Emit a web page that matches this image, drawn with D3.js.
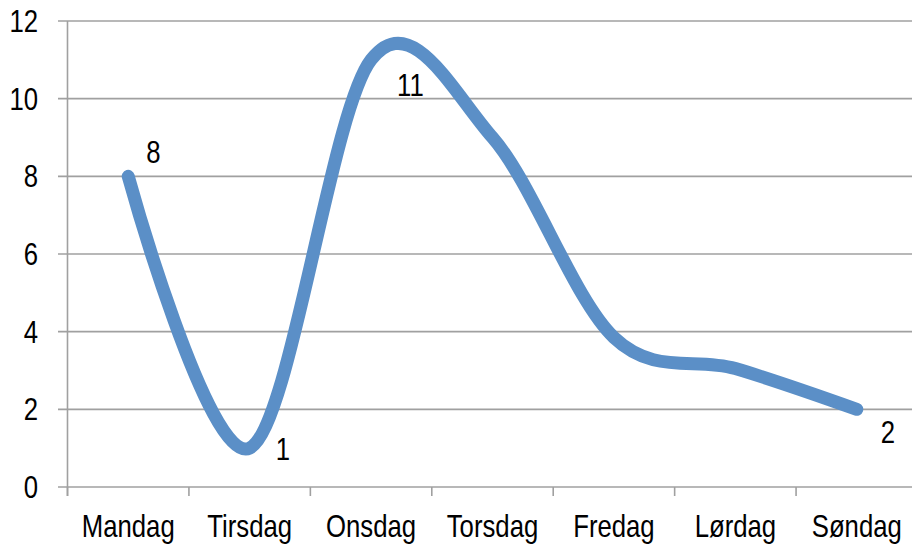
<!DOCTYPE html>
<html><head><meta charset="utf-8">
<script src="https://cdn.jsdelivr.net/npm/d3@7"></script>
<style>body{margin:0;background:#fff}svg{display:block}text{font-family:"Liberation Sans",Arial,sans-serif;fill:#000}</style>
</head><body><svg id="c" width="912" height="544"></svg>
<script>
const categories = ["Mandag","Tirsdag","Onsdag","Torsdag","Fredag","Lørdag","Søndag"];
const values = [8, 1, 11, 9, 3.85, 3.05, 2];
const shownLabels = ["8","1","11",null,null,null,"2"];
const yTicks = [0,2,4,6,8,10,12];

const svg = d3.select("#c");
const x = d3.scaleBand().domain(categories).range([67.5, 917.5]);
const y = d3.scaleLinear().domain([0,12]).range([487, 21]);
const sx = 0.83, fs = 31;

// gridlines
svg.append("g").selectAll("line").data(yTicks).join("line")
  .attr("x1", 58).attr("x2", 912)
  .attr("y1", d => y(d)).attr("y2", d => y(d))
  .attr("stroke", "#a0a0a0").attr("stroke-width", 1.6);
// y axis line
svg.append("line").attr("x1",67.5).attr("x2",67.5).attr("y1",y(12)).attr("y2",496)
  .attr("stroke","#a0a0a0").attr("stroke-width",1.6);
// x ticks at category boundaries
const bounds = categories.map(c => x(c)).concat([x.range()[1]]);
svg.append("g").selectAll("line").data(bounds).join("line")
  .attr("x1", d => d).attr("x2", d => d).attr("y1", y(0)).attr("y2", 496)
  .attr("stroke","#a0a0a0").attr("stroke-width",1.6);

// y labels
svg.append("g").selectAll("text").data(yTicks).join("text")
  .attr("transform", d => `translate(38,${y(d)+11}) scale(${sx},1)`)
  .attr("text-anchor","end").attr("font-size", fs).text(d => d);
// x labels
svg.append("g").selectAll("text").data(categories).join("text")
  .attr("transform", d => `translate(${x(d)+x.bandwidth()/2},537) scale(${sx},1)`)
  .attr("text-anchor","middle").attr("font-size", fs).text(d => d);

// line
const cx = (d,i) => x(categories[i]) + x.bandwidth()/2;
const line = d3.line().x((d,i)=>cx(d,i)).y(d=>y(d)).curve(d3.curveCatmullRom.alpha(0));
svg.append("path").datum(values).attr("d", line)
  .attr("fill","none").attr("stroke","#5b8fc7").attr("stroke-width",13)
  .attr("stroke-linecap","round").attr("stroke-linejoin","round");

// data labels (offsets relative to point, in px)
const labelOffset = {0:[18,-13], 1:[26,12], 2:[26,36], 6:[24,34]};
svg.append("g").selectAll("text").data(values.map((v,i)=>({v,i})).filter(d=>shownLabels[d.i]!==null)).join("text")
  .attr("transform", d => `translate(${cx(d.v,d.i)+labelOffset[d.i][0]},${y(d.v)+labelOffset[d.i][1]}) scale(${sx},1)`)
  .attr("text-anchor","start").attr("font-size", fs).text(d => shownLabels[d.i]);
</script></body></html>
